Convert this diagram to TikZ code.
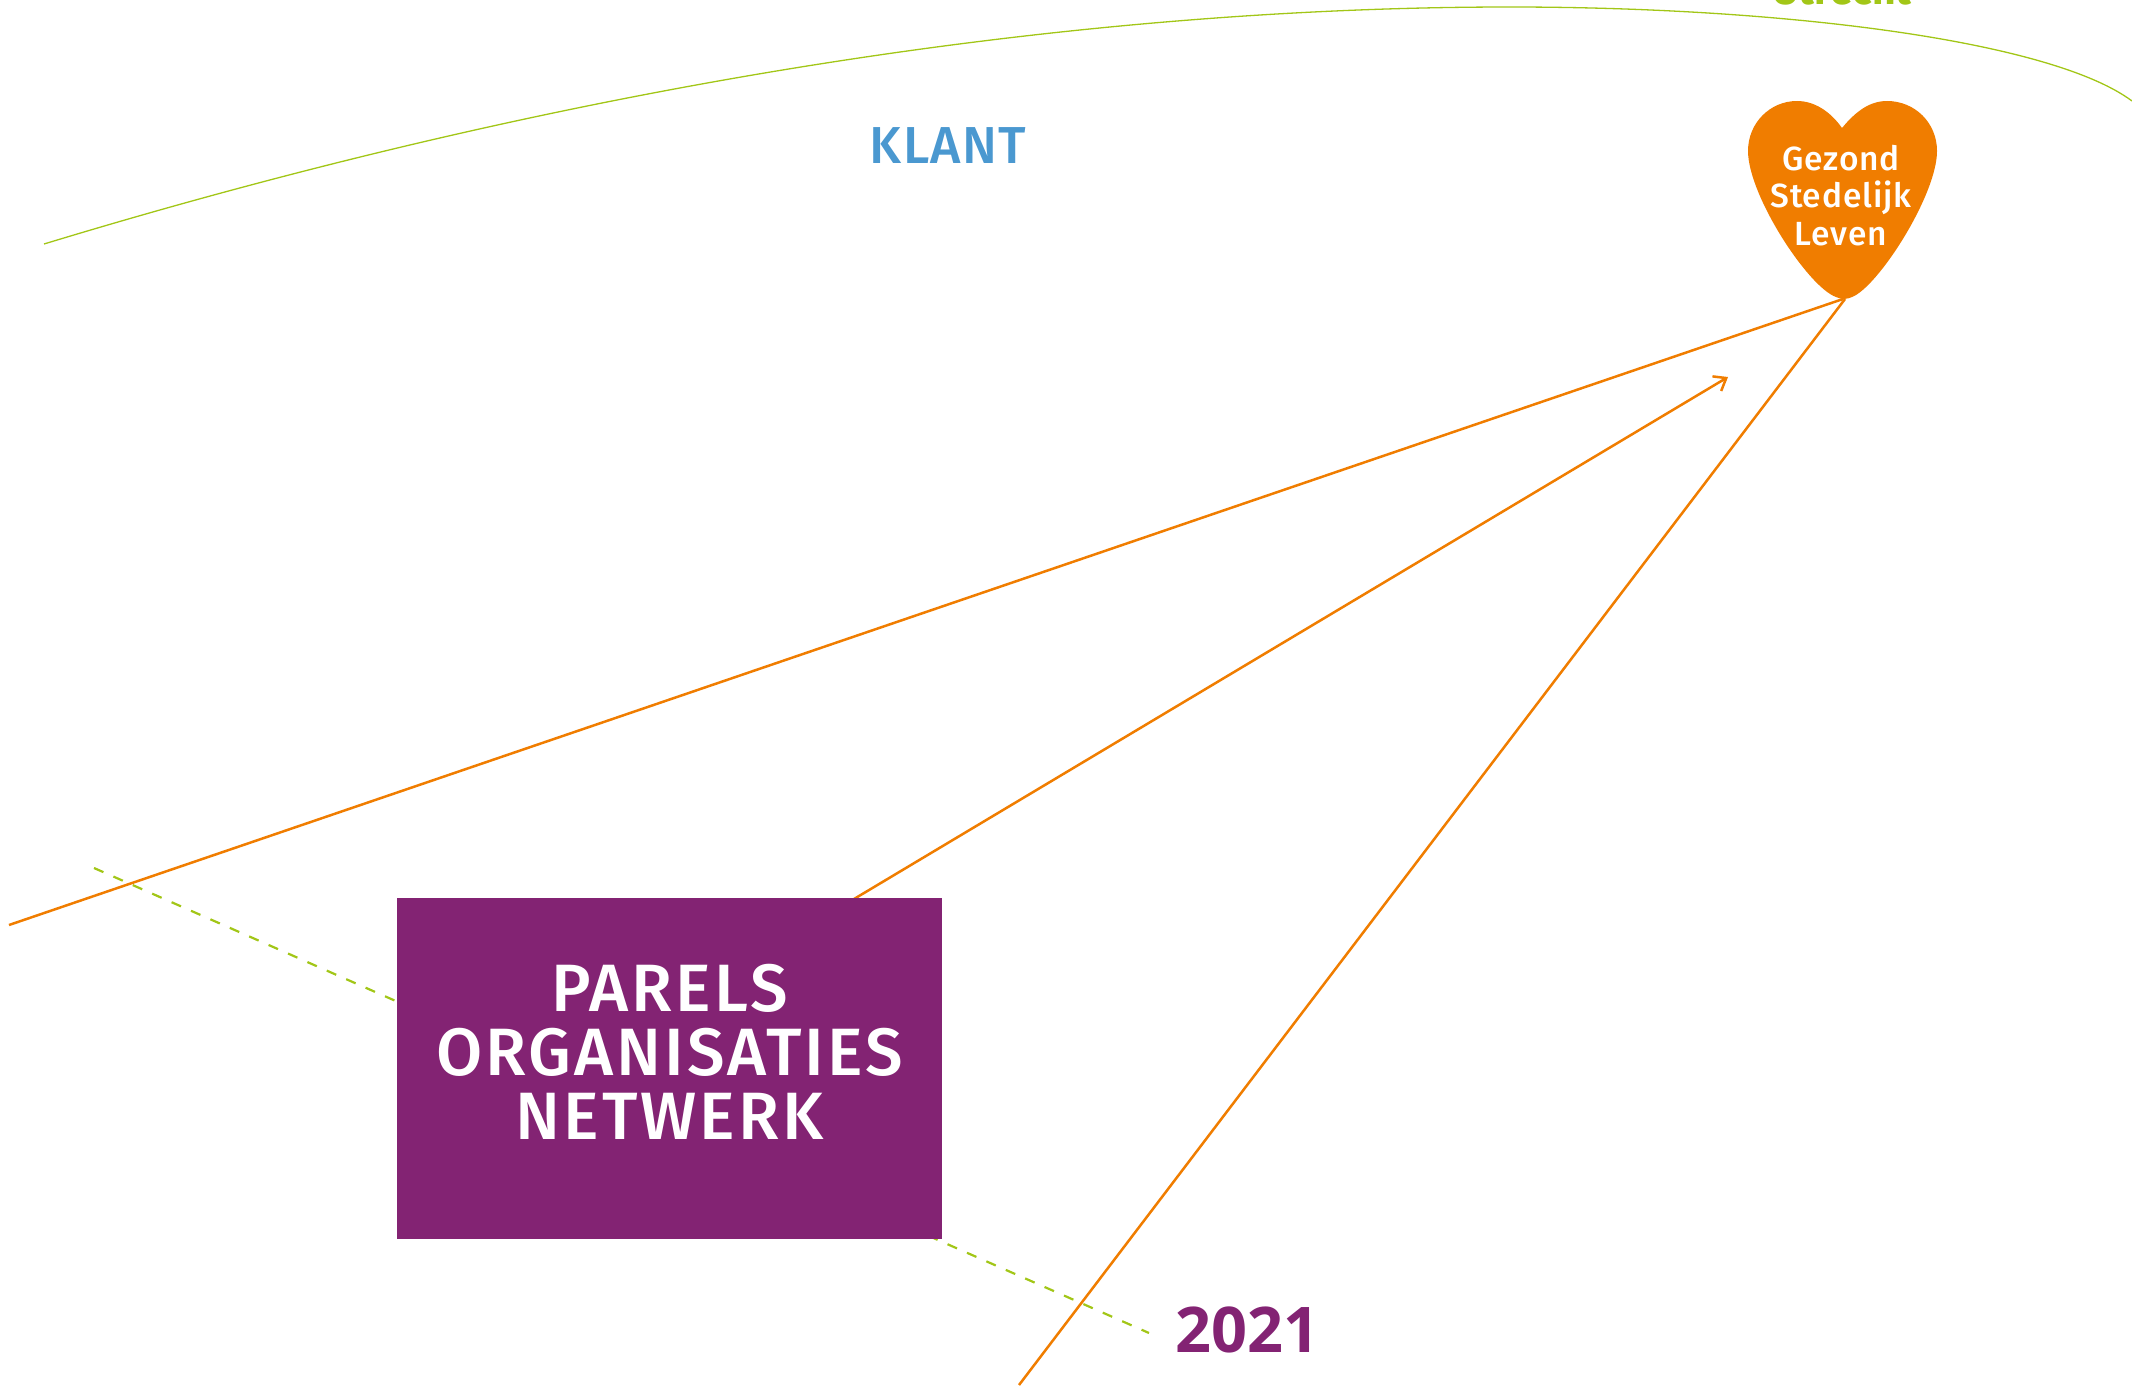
\documentclass[tikz,border=0pt]{standalone}
\usepackage{fontspec}
\setmainfont{Fira Sans}
\newfontfamily\medA{Fira Sans Medium}[LetterSpace=4.5]
\newfontfamily\medB{Fira Sans Medium}[LetterSpace=2.5]
\newfontfamily\yearfont{Open Sans}[BoldFont={* Bold}]
\usetikzlibrary{arrows.meta}
\definecolor{parelpurple}{HTML}{832373}
\definecolor{parelorange}{HTML}{F07D00}
\definecolor{parelgreen}{HTML}{A2C617}
\definecolor{parelblue}{HTML}{4A98D0}
\tikzset{
  orangeline/.style={draw=parelorange,line width=2.5pt},
  greendash/.style={draw=parelgreen,line width=2.2pt,dash pattern=on 10.3pt off 10.9pt},
  label/.style={inner sep=0pt,outer sep=0pt,anchor=base},
}
\begin{document}
\begin{tikzpicture}[x=1pt,y=-1pt]
\useasboundingbox (0,0) rectangle (2132,1386);
\coordinate (curveL) at (44,244);
\coordinate (curveT) at (1510,7);
\coordinate (curveR) at (2132,101);
\coordinate (tip) at (1843,299);
\coordinate (leftEnd) at (9,925);
\coordinate (bottomEnd) at (1019,1385);
\coordinate (arrowStart) at (854,899);
\coordinate (arrowTip) at (1728,377);
\coordinate (dashA) at (94,868);
\coordinate (dashB) at (1149,1333);
\draw[parelgreen,line width=1.3pt] (curveL) .. controls (600,75) and (1100,7) .. (curveT)
   .. controls (1780,7) and (2050,40) .. (curveR);
\draw[greendash] (dashA) -- (dashB);
\draw[orangeline] (leftEnd) -- (tip);
\draw[orangeline] (bottomEnd) -- (1845,299);
\draw[orangeline,-{Straight Barb[length=11pt,width=17pt,line width=2.5pt]}] (arrowStart) -- (arrowTip);
\fill[parelorange] (1842,128) .. controls (1856,111) and (1870,101) .. (1887,101)
  .. controls (1915,101) and (1937,123) .. (1937,151)
  .. controls (1937,195) and (1878,287) .. (1852,297)
  .. controls (1848,299) and (1842,300) .. (1836,297)
  .. controls (1808,287) and (1748,195) .. (1748,151)
  .. controls (1748,123) and (1770,101) .. (1797,101)
  .. controls (1814,101) and (1830,111) .. (1842,128) -- cycle;
\node[fill=parelpurple,minimum width=545pt,minimum height=341pt,inner sep=0pt,outer sep=0pt] (box) at (669.5,1068.5) {};
\node[label,text=white,font=\medA\fontsize{67}{64}\selectfont] (l1) at (669.5,1011) {PARELS};
\node[label,text=white,font=\medA\fontsize{67}{64}\selectfont] (l2) at (669.5,1075) {ORGANISATIES};
\node[label,text=white,font=\medA\fontsize{67}{64}\selectfont] (l3) at (669.5,1139) {NETWERK};
\node[label,text=white,font=\medB\fontsize{33.5}{37}\selectfont] (h1) at (1841,170) {Gezond};
\node[label,text=white,font=\medB\fontsize{33.5}{37}\selectfont] (h2) at (1841,207.5) {Stedelijk};
\node[label,text=white,font=\medB\fontsize{33.5}{37}\selectfont] (h3) at (1841,245) {Leven};
\node[label,text=parelblue,font=\medB\fontsize{52}{52}\selectfont] (klant) at (948,163) {KLANT};
\node[label,text=parelpurple,font=\yearfont\bfseries\fontsize{63}{63}\selectfont] (year) at (1247,1352) {2021};
\node[label,text=parelgreen,font=\bfseries\fontsize{41}{41}\selectfont] (utrecht) at (1842,5) {Utrecht};
\end{tikzpicture}
\end{document}
